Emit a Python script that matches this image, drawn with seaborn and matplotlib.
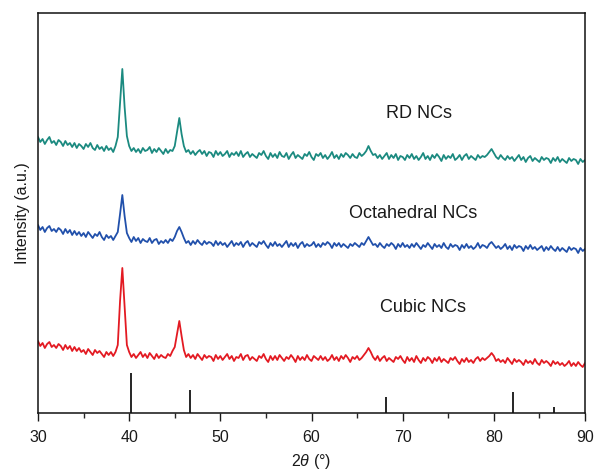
import numpy as np
import pandas as pd
import matplotlib
matplotlib.use("Agg")
import matplotlib.pyplot as plt
import seaborn as sns

# 2theta scan grid (0.25 deg step, 30-90)
two_theta = np.linspace(30, 90, 241)

# intensities (a.u.), offset per sample, 4 points per degree
rd_ncs = [
    276, 271, 274, 269, 273, 276, 270, 272, 268, 273, 271, 267, 272, 268, 270, 266,
    270, 265, 269, 267, 264, 269, 266, 270, 265, 263, 268, 264, 266, 262, 267, 263,
    265, 261, 267, 276, 310, 344, 306, 277, 267, 262, 265, 261, 264, 260, 265, 262,
    263, 266, 260, 264, 261, 265, 262, 259, 264, 260, 263, 262, 267, 281, 295, 279,
    267, 261, 263, 259, 262, 258, 261, 263, 259, 262, 257, 261, 260, 256, 262, 258,
    261, 257, 259, 262, 256, 260, 258, 261, 257, 262, 256, 259, 261, 256, 259, 257,
    255, 260, 258, 262, 257, 254, 260, 256, 259, 255, 261, 257, 256, 260, 254, 258,
    261, 255, 258, 256, 254, 259, 257, 261, 256, 253, 259, 257, 260, 255, 258, 254,
    257, 261, 255, 258, 254, 259, 256, 260, 258, 255, 259, 256, 255, 260, 257, 259,
    262, 267, 262, 258, 259, 255, 258, 254, 257, 260, 254, 258, 255, 259, 253, 257,
    256, 253, 258, 255, 259, 254, 257, 253, 256, 260, 254, 257, 253, 258, 255, 259,
    256, 252, 258, 254, 257, 255, 259, 253, 255, 258, 253, 257, 259, 254, 257, 255,
    253, 258, 255, 257, 256, 258, 261, 264, 260, 256, 254, 258, 255, 253, 257, 254,
    256, 252, 255, 258, 253, 256, 251, 255, 257, 252, 255, 253, 251, 256, 253, 255,
    254, 250, 255, 252, 256, 251, 254, 252, 250, 255, 252, 254, 253, 249, 254, 251,
    253,
]
octahedral_ncs = [
    188, 183, 186, 181, 185, 187, 182, 184, 181, 185, 183, 179, 184, 180, 183, 178,
    182, 178, 181, 177, 180, 176, 181, 178, 175, 179, 177, 181, 176, 173, 178, 175,
    177, 173, 177, 181, 199, 218, 197, 180, 175, 171, 176, 172, 175, 170, 174, 172,
    171, 175, 170, 173, 174, 169, 172, 170, 173, 170, 174, 172, 176, 182, 186, 181,
    175, 170, 172, 168, 172, 169, 173, 170, 168, 172, 169, 171, 170, 167, 172, 168,
    171, 168, 170, 166, 169, 172, 167, 170, 168, 171, 166, 170, 172, 167, 170, 168,
    166, 171, 169, 172, 168, 165, 170, 167, 171, 167, 169, 166, 169, 172, 166, 170,
    167, 170, 165, 169, 171, 166, 169, 167, 168, 171, 166, 169, 166, 170, 168, 171,
    169, 165, 170, 167, 170, 166, 169, 167, 165, 169, 167, 170, 168, 166, 170, 168,
    172, 176, 172, 168, 169, 166, 170, 167, 165, 169, 167, 170, 168, 164, 169, 166,
    170, 166, 168, 165, 169, 166, 170, 167, 164, 168, 166, 170, 167, 164, 169, 166,
    168, 165, 170, 166, 164, 169, 166, 168, 167, 163, 168, 165, 169, 165, 167, 164,
    166, 170, 165, 168, 167, 165, 169, 171, 168, 165, 167, 164, 166, 169, 164, 167,
    163, 168, 165, 167, 166, 162, 167, 164, 168, 164, 166, 163, 165, 167, 162, 166,
    163, 167, 164, 162, 166, 162, 165, 163, 161, 166, 163, 165, 164, 160, 165, 162,
    164,
]
cubic_ncs = [
    72, 67, 70, 65, 69, 71, 66, 68, 65, 69, 67, 63, 68, 64, 67, 62,
    66, 62, 65, 61, 63, 59, 64, 61, 58, 63, 60, 62, 59, 56, 61, 58,
    61, 57, 61, 68, 112, 145, 107, 68, 61, 56, 59, 55, 58, 61, 56, 59,
    55, 60, 57, 54, 59, 55, 58, 56, 55, 59, 57, 62, 66, 79, 92, 77,
    63, 56, 59, 55, 58, 54, 59, 56, 53, 58, 55, 57, 56, 52, 58, 54,
    57, 53, 56, 59, 54, 57, 52, 56, 55, 59, 53, 57, 58, 53, 56, 54,
    52, 57, 55, 59, 54, 51, 57, 53, 57, 53, 58, 55, 52, 56, 54, 58,
    55, 51, 57, 53, 56, 53, 58, 54, 52, 57, 55, 53, 57, 53, 56, 52,
    54, 58, 53, 56, 52, 57, 54, 58, 55, 51, 56, 54, 57, 53, 55, 58,
    61, 65, 61, 56, 53, 57, 52, 55, 57, 52, 55, 53, 51, 56, 54, 57,
    53, 50, 56, 52, 55, 51, 57, 53, 50, 55, 52, 56, 54, 50, 55, 52,
    56, 51, 54, 52, 50, 55, 53, 56, 52, 49, 54, 51, 55, 51, 53, 50,
    54, 56, 52, 55, 53, 55, 57, 60, 57, 52, 54, 51, 53, 50, 55, 52,
    49, 54, 51, 53, 51, 48, 53, 50, 52, 49, 54, 50, 48, 53, 50, 52,
    50, 47, 52, 49, 51, 48, 50, 47, 49, 52, 47, 50, 47, 51, 48, 46,
    50,
]

sample_names = ["RD NCs", "Octahedral NCs", "Cubic NCs"]
sample_colors = ["#1b8a80", "#2150ab", "#e31a22"]
label_x = [71.8, 71.1, 72.2]
label_y = [300, 200, 105]

# reference pattern sticks
ref_pos = [40.15, 46.7, 68.15, 82.15, 86.65]
ref_height = [40, 23, 16, 21, 6]

df = pd.DataFrame({
    "two_theta": np.concatenate([two_theta] * 3),
    "intensity": rd_ncs + octahedral_ncs + cubic_ncs,
    "sample": np.repeat(sample_names, len(two_theta)),
})

sns.set_style("ticks")
plt.rcParams["font.family"] = ["Liberation Sans", "DejaVu Sans"]
plt.rcParams["mathtext.fontset"] = "custom"
plt.rcParams["mathtext.it"] = "Liberation Sans:italic"
plt.rcParams["mathtext.rm"] = "Liberation Sans"

fig, ax = plt.subplots(figsize=(5.95, 4.74), dpi=100)
fig.subplots_adjust(left=38 / 595, right=585 / 595, bottom=61 / 474, top=461 / 474)

sns.lineplot(data=df, x="two_theta", y="intensity", hue="sample",
             palette=dict(zip(sample_names, sample_colors)), estimator=None,
             sort=False, linewidth=1.3, legend=False, ax=ax)

ax.vlines(ref_pos, 0, ref_height, color="black", linewidth=1.2)

for name, lx, ly in zip(sample_names, label_x, label_y):
    ax.text(lx, ly, name, ha="center", va="center", fontsize=13, color="#1a1a1a")

ax.set_xlim(30, 90)
ax.set_ylim(0, 400)
ax.set_xticks(range(30, 91, 10))
ax.set_xticks(range(35, 90, 10), minor=True)
ax.set_yticks([])
ax.tick_params(axis="x", which="major", direction="out", length=5.5, width=1,
               labelsize=11.5, pad=7, colors="#1a1a1a")
ax.tick_params(axis="x", which="minor", direction="out", length=3.5, width=1)
for s in ax.spines.values():
    s.set_visible(True)
    s.set_linewidth(1.1)
    s.set_color("#111111")

ax.set_xlabel(r"$\mathit{2\theta}$ (°)", fontsize=11.5, color="#1a1a1a", labelpad=5)
ax.set_ylabel("Intensity (a.u.)", fontsize=11.5, color="#1a1a1a", labelpad=6)

fig.savefig("out.png", dpi=100)
